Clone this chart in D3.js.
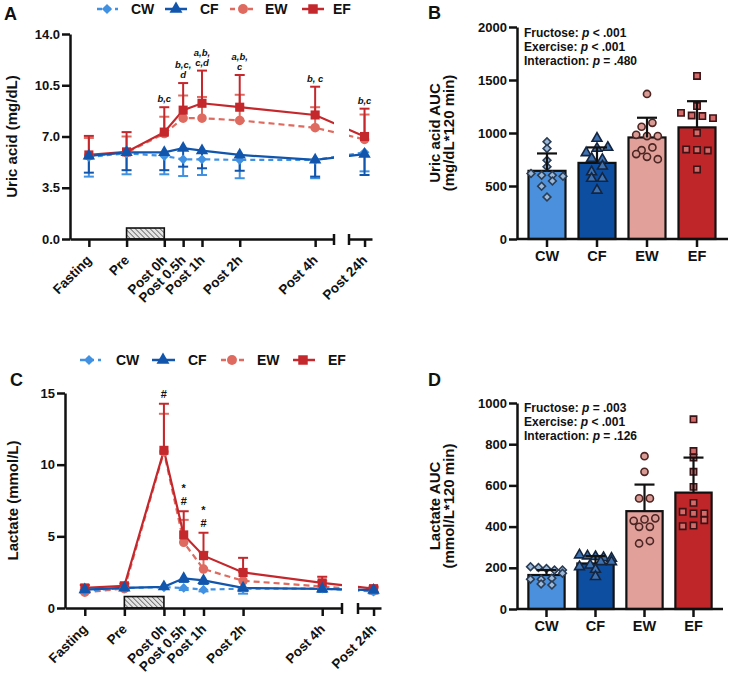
<!DOCTYPE html>
<html><head><meta charset="utf-8">
<script src="https://cdn.jsdelivr.net/npm/d3@7"></script>
<style>
body{margin:0;background:#fff;}
text{font-family:Arial,"Liberation Sans",sans-serif;font-weight:bold;fill:#111;}
</style></head><body>
<script>
// ---------------- DATA ----------------
const timeLabels = ["Fasting","Pre","Post 0h","Post 0.5h","Post 1h","Post 2h","Post 4h","Post 24h"];
const timeMin = [-60,0,60,90,120,180,300,1440];
const groups = ["CW","CF","EW","EF"];

// Uric acid (mg/dL), mean and SD
const uricMean_CW = [5.60,5.85,5.67,5.44,5.44,5.40,5.40,5.92];
const uricSD_CW   = [1.34,1.43,1.25,1.14,1.07,1.25,1.25,1.30];
const uricMean_CF = [5.67,5.92,5.92,6.20,6.03,5.74,5.40,5.80];
const uricSD_CF   = [1.14,1.22,1.22,1.26,1.20,1.08,1.14,1.43];
const uricMean_EW = [5.70,5.90,7.20,8.25,8.25,8.10,7.60,6.80];
const uricSD_EW   = [1.20,1.10,1.15,1.55,1.45,1.75,1.40,1.70];
const uricMean_EF = [5.74,5.95,7.30,8.80,9.27,9.00,8.47,7.00];
const uricSD_EF   = [1.30,1.35,1.70,1.85,2.23,2.20,1.93,1.90];
const uricAnn = ["","","b,c","b,c,|d","a,b,|c,d","a,b,|c","b, c","b,c"];

// Lactate (mmol/L), mean and SD
const lacMean_CW = [1.20,1.40,1.45,1.40,1.28,1.35,1.35,1.15];
const lacSD_CW   = [0.15,0.15,0.12,0.15,0.12,0.35,0.15,0.15];
const lacMean_CF = [1.28,1.40,1.48,2.07,1.93,1.40,1.33,1.25];
const lacSD_CF   = [0.15,0.15,0.12,0.25,0.25,0.20,0.20,0.15];
const lacMean_EW = [1.10,1.35,10.90,4.58,2.72,1.90,1.50,1.20];
const lacSD_EW   = [0.15,0.15,2.65,1.57,1.20,0.60,0.40,0.20];
const lacMean_EF = [1.40,1.55,11.00,5.10,3.65,2.48,1.75,1.35];
const lacSD_EF   = [0.20,0.15,3.25,1.65,1.60,1.02,0.43,0.15];
const lacAnn = ["","","#","*|#","*|#","","",""];

// exercise bout: start (min), end (min), drawn height (axis units)
const exerciseUric = [0,60,0.75];
const exerciseLac = [0,60,0.8];

// AUC
const uricAucMean = [643,718,958,1053];
const uricAucSD   = [164,146,186,247];
const uricAuc_CW = [917,854,744,681,618,602,602,593,548,498,397];
const uricAuc_CF = [949,864,854,813,760,750,687,633,571,571,460];
const uricAuc_EW = [1368,1096,1059,983,971,971,864,838,801,775,753];
const uricAuc_EF = [1538,1254,1190,1165,1160,1140,1002,845,840,835,656];

const lacAucMean = [165,221,475,565];
const lacAucSD   = [24,36,129,170];
const lacAuc_CW = [205,202,197,189,189,173,149,145,145,121,116];
const lacAuc_CF = [262,257,254,249,246,229,229,213,205,192,157];
const lacAuc_EW = [742,666,537,537,440,435,428,399,399,330,318];
const lacAuc_EF = [921,767,735,666,593,515,472,464,464,431,405,402];

const uricTicks = [0,3.5,7,10.5,14];
const lacTicks = [0,5,10,15];
const uricAucTicks = [0,500,1000,1500,2000];
const lacAucTicks = [0,200,400,600,800,1000];

const uricStats = [["Fructose: ","p"," < .001"],["Exercise: ","p"," < .001"],["Interaction: ","p"," = .480"]];
const lacStats  = [["Fructose: ","p"," = .003"],["Exercise: ","p"," < .001"],["Interaction: ","p"," = .126"]];

// ---------------- STYLE ----------------
const st = {
  CW:{line:"#4091E2", dash:"5,4", sym:"diamond", size:42, bar:"#4A90DC", pf:"#9cb9d9", ps:"#2a3d55"},
  CF:{line:"#1156AC", dash:null,  sym:"triangle",size:58, bar:"#0D4EA0", pf:"#3f72b0", ps:"#14253f"},
  EW:{line:"#DF6A5F", dash:"6,4", sym:"circle",  size:62, bar:"#E2A09A", pf:"#d99b95", ps:"#4d2522"},
  EF:{line:"#C4282D", dash:null,  sym:"square",  size:72, bar:"#BF2629", pf:"#d56a6b", ps:"#3d1214"}
};
const W = 734, H = 675;
const svg = d3.select("body").append("svg").attr("width",W).attr("height",H);
const defs = svg.append("defs");
const pat = defs.append("pattern").attr("id","hatch").attr("patternUnits","userSpaceOnUse")
  .attr("width",3.5).attr("height",3.5).attr("patternTransform","rotate(-45)");
pat.append("rect").attr("width",3.5).attr("height",3.5).attr("fill","#e4e4e4");
pat.append("line").attr("x1",0).attr("y1",0).attr("x2",0).attr("y2",3.5).attr("stroke","#555").attr("stroke-width",1.5);

function symPath(type, size){
  const t = type==="circle"?d3.symbolCircle:type==="triangle"?d3.symbolTriangle:d3.symbolSquare;
  return d3.symbol(t,size)();
}
function marker(g, type, x, y, size, fill, stroke, sw){
  return g.append("path").attr("d",symPath(type,size))
    .attr("transform",`translate(${x},${y})`+(type==="diamond"?" rotate(45)":""))
    .attr("fill",fill).attr("stroke",stroke||"none").attr("stroke-width",sw||0);
}
function styleAxis(sel, fs){
  sel.selectAll("path,line").attr("stroke","#111").attr("stroke-width",2.5);
  sel.selectAll("text").style("font-size",fs+"px").style("font-family","Arial,'Liberation Sans',sans-serif").style("font-weight","bold").attr("fill","#111");
}

function lineChart(o){
  const g = svg.append("g");
  const x1 = o.x1, x2 = o.x2, y = o.y;
  const xPos = t => t>1000 ? x2(t) : x1(t);
  const cp = defs.append("clipPath").attr("id",o.id);
  cp.append("rect").attr("x",x1.range()[0]).attr("y",0).attr("width",x1.range()[1]-x1.range()[0]).attr("height",H);
  cp.append("rect").attr("x",x2.range()[0]).attr("y",0).attr("width",x2.range()[1]-x2.range()[0]+30).attr("height",H);
  // exercise box
  g.append("rect").attr("x",x1(o.exercise[0])).attr("width",x1(o.exercise[1])-x1(o.exercise[0]))
    .attr("y",y(o.exercise[2])).attr("height",y(0)-y(o.exercise[2]))
    .attr("fill","url(#hatch)").attr("stroke","#111").attr("stroke-width",1.6);
  // y axis
  const ya = g.append("g").attr("transform",`translate(${x1.range()[0]},0)`)
    .call(d3.axisLeft(y).tickValues(o.yTicks).tickFormat(o.yFmt).tickSize(8).tickSizeOuter(0).tickPadding(2));
  styleAxis(ya,13);
  // x axis segments
  const xa1 = g.append("g").attr("transform",`translate(0,${y(0)})`)
    .call(d3.axisBottom(x1).tickValues(timeMin.slice(0,7)).tickFormat((d,i)=>timeLabels[i]).tickSize(8).tickSizeOuter(0));
  const xa2 = g.append("g").attr("transform",`translate(0,${y(0)})`)
    .call(d3.axisBottom(x2).tickValues(timeMin.slice(7)).tickFormat(()=>timeLabels[7]).tickSize(8).tickSizeOuter(0));
  [xa1,xa2].forEach(a=>{
    styleAxis(a,13.5);
    a.selectAll("text").attr("x",0).attr("y",0).attr("dy",0).attr("text-anchor","end")
      .attr("transform","translate(3,22) rotate(-45)");
  });
  [x1.range()[1], x2.range()[0]].forEach(xx=>{
    g.append("line").attr("x1",xx).attr("x2",xx).attr("y1",y(0)-5).attr("y2",y(0)+6)
      .attr("stroke","#111").attr("stroke-width",2.5);
  });
  // series
  const drawOrder = ["EW","EF","CW","CF"];
  const sers = drawOrder.map(k=>({k, s:st[k], mean:o.data[k][0], sd:o.data[k][1], dir:(k[0]==="C"?-1:1)}));
  sers.forEach(S=>{
    timeMin.forEach((t,i)=>{
      const x = xPos(t), y0 = y(S.mean[i]), y1 = y(S.mean[i]+S.dir*S.sd[i]);
      g.append("line").attr("x1",x).attr("x2",x).attr("y1",y0).attr("y2",y1).attr("stroke",S.s.line).attr("stroke-width",2);
      g.append("line").attr("x1",x-5).attr("x2",x+5).attr("y1",y1).attr("y2",y1).attr("stroke",S.s.line).attr("stroke-width",2);
    });
  });
  sers.forEach(S=>{
    const pts = timeMin.map((t,i)=>[xPos(t), y(S.mean[i])]);
    g.append("path").attr("d",d3.line()(pts)).attr("fill","none").attr("stroke",S.s.line)
      .attr("stroke-width",2.2).attr("stroke-dasharray",S.s.dash).attr("clip-path",`url(#${o.id})`);
  });
  sers.forEach(S=>{
    timeMin.forEach((t,i)=>{
      marker(g,S.s.sym,xPos(t),y(S.mean[i]),S.s.size*1.15,S.s.line);
    });
  });
  // annotations (above EF upper error)
  const ef = o.data.EF;
  o.ann.forEach((a,i)=>{
    if(!a) return;
    const lines = a.split("|");
    const cap = y(ef[0][i]+ef[1][i]);
    lines.forEach((ln,j)=>{
      g.append("text").attr("x",xPos(timeMin[i])).attr("y",cap-o.annGap-(lines.length-1-j)*o.annLine)
        .attr("text-anchor","middle").style("font-size",o.annSize+"px")
        .style("font-style",o.annItalic?"italic":"normal").text(ln);
    });
  });
  // y title
  g.append("text").attr("transform",`translate(${o.yTitleX},${(y.range()[0]+y.range()[1])/2}) rotate(-90)`)
    .attr("text-anchor","middle").style("font-size","15px").text(o.yTitle);
  // panel letter
  g.append("text").attr("x",o.letter[1]).attr("y",o.letter[2]).style("font-size","18px").text(o.letter[0]);
  // legend
  const lg = g.append("g");
  o.legend.forEach((L,i)=>{
    const k = groups[i], s = st[k];
    lg.append("line").attr("x1",L[0]).attr("x2",L[1]).attr("y1",o.legendY).attr("y2",o.legendY)
      .attr("stroke",s.line).attr("stroke-width",2.5).attr("stroke-dasharray",s.dash?"5,4":null);
    marker(lg,s.sym,L[2],o.legendY,s.size*1.25,s.line);
    lg.append("text").attr("x",L[3]).attr("y",o.legendY+5).style("font-size","14px").text(k);
  });
}

function swarm(vals, y, cx, spacing, thr, maxW){
  const pts = vals.map(v=>({v, py:y(v)})).sort((a,b)=>a.py-b.py);
  const out = [];
  let i=0, flip=false;
  while(i<pts.length){
    const grp=[pts[i]]; let j=i+1;
    while(j<pts.length && pts[j].py-pts[i].py<thr){grp.push(pts[j]); j++;}
    const n=grp.length;
    const sp = n>1 ? Math.min(spacing, maxW/(n-1)) : 0;
    if(flip) grp.reverse();
    flip=!flip;
    grp.forEach((p,k)=>out.push({v:p.v, x:cx+(k-(n-1)/2)*sp, y:p.py}));
    i=j;
  }
  return out;
}

function barChart(o){
  const g = svg.append("g");
  const y = o.y;
  const x = d3.scaleBand().domain(groups).range(o.band).paddingInner(0.26).paddingOuter(0.13);
  // bars
  groups.forEach((k,i)=>{
    g.append("rect").attr("x",x(k)).attr("width",x.bandwidth()).attr("y",y(o.mean[i])).attr("height",y(0)-y(o.mean[i]))
      .attr("fill",st[k].bar).attr("stroke","#111").attr("stroke-width",2.2);
  });
  // points
  groups.forEach((k,i)=>{
    const s = st[k];
    swarm(o.pts[i], y, x(k)+x.bandwidth()/2, 10.8, 6.5, 32).forEach(p=>{
      const sz = s.sym==="diamond"?30:s.sym==="triangle"?42:40;
      marker(g,s.sym,p.x,p.y,sz,s.pf,s.ps,1.6);
    });
  });
  // error bars
  groups.forEach((k,i)=>{
    const cx = x(k)+x.bandwidth()/2, y0 = y(o.mean[i]), y1 = y(o.mean[i]+o.sd[i]);
    g.append("line").attr("x1",cx).attr("x2",cx).attr("y1",y0).attr("y2",y1).attr("stroke","#111").attr("stroke-width",2.2);
    g.append("line").attr("x1",cx-10).attr("x2",cx+10).attr("y1",y1).attr("y2",y1).attr("stroke","#111").attr("stroke-width",2.2);
  });
  // axes
  const ya = g.append("g").attr("transform",`translate(${o.axisX[0]},0)`)
    .call(d3.axisLeft(y).tickValues(o.ticks).tickFormat(d3.format("d")).tickSize(8).tickSizeOuter(0).tickPadding(2));
  styleAxis(ya,13);
  const xa = g.append("g").attr("transform",`translate(0,${y(0)})`)
    .call(d3.axisBottom(x).tickSize(8).tickSizeOuter(0).tickPadding(4));
  xa.select(".domain").remove();
  xa.append("line").attr("x1",o.axisX[0]).attr("x2",o.axisX[1]).attr("y1",0).attr("y2",0);
  styleAxis(xa,14.5);
  // stats text
  o.stats.forEach((s,i)=>{
    const t = g.append("text").attr("x",o.statsXY[0]).attr("y",o.statsXY[1]+i*14).style("font-size","12px");
    t.append("tspan").text(s[0]);
    t.append("tspan").style("font-style","italic").text(s[1]);
    t.append("tspan").text(s[2]);
  });
  // y title
  const cy = (y.range()[0]+y.range()[1])/2;
  o.yTitle.forEach((ln,i)=>{
    g.append("text").attr("transform",`translate(${o.yTitleX+i*14},${cy}) rotate(-90)`)
      .attr("text-anchor","middle").style("font-size","15px").text(ln);
  });
  g.append("text").attr("x",o.letter[1]).attr("y",o.letter[2]).style("font-size","18px").text(o.letter[0]);
}

// ---------------- PANELS ----------------
lineChart({
  id:"clipA",
  x1:d3.scaleLinear().domain([-90,330]).range([70,334]),
  x2:d3.scaleLinear().domain([1415,1452]).range([349,372]),
  y:d3.scaleLinear().domain([0,14]).range([239,34]),
  yTicks:uricTicks, yFmt:d3.format(".1f"),
  data:{CW:[uricMean_CW,uricSD_CW],CF:[uricMean_CF,uricSD_CF],EW:[uricMean_EW,uricSD_EW],EF:[uricMean_EF,uricSD_EF]},
  exercise:exerciseUric,
  ann:uricAnn, annGap:5, annLine:10, annSize:9.5, annItalic:true,
  yTitle:"Uric acid (mg/dL)", yTitleX:17,
  letter:["A",4,20],
  legendY:9, legend:[[97,118,107,131],[165,187,176,200],[230,254,243,265],[302,324,313,333]]
});
lineChart({
  id:"clipC",
  x1:d3.scaleLinear().domain([-90,330]).range([65,342]),
  x2:d3.scaleLinear().domain([1415,1452]).range([358,381]),
  y:d3.scaleLinear().domain([0,15]).range([608,393]),
  yTicks:lacTicks, yFmt:d3.format("d"),
  data:{CW:[lacMean_CW,lacSD_CW],CF:[lacMean_CF,lacSD_CF],EW:[lacMean_EW,lacSD_EW],EF:[lacMean_EF,lacSD_EF]},
  exercise:exerciseLac,
  ann:lacAnn, annGap:6, annLine:13, annSize:11, annItalic:false,
  yTitle:"Lactate (mmol/L)", yTitleX:18,
  letter:["C",10,386],
  legendY:360, legend:[[80,101,89,116],[152,175,163,188],[221,246,232,257],[293,315,303,328]]
});
barChart({
  y:d3.scaleLinear().domain([0,2000]).range([239,27]),
  band:[522,722], axisX:[517,728], ticks:uricAucTicks,
  mean:uricAucMean, sd:uricAucSD, pts:[uricAuc_CW,uricAuc_CF,uricAuc_EW,uricAuc_EF],
  stats:uricStats, statsXY:[524,37],
  yTitle:["Uric acid AUC","(mg/dL*120 min)"], yTitleX:440,
  letter:["B",428,19]
});
barChart({
  y:d3.scaleLinear().domain([0,1000]).range([609,403]),
  band:[522,718], axisX:[517,723], ticks:lacAucTicks,
  mean:lacAucMean, sd:lacAucSD, pts:[lacAuc_CW,lacAuc_CF,lacAuc_EW,lacAuc_EF],
  stats:lacStats, statsXY:[524,412],
  yTitle:["Lactate AUC","(mmol/L*120 min)"], yTitleX:440,
  letter:["D",428,386]
});
</script>
</body></html>
